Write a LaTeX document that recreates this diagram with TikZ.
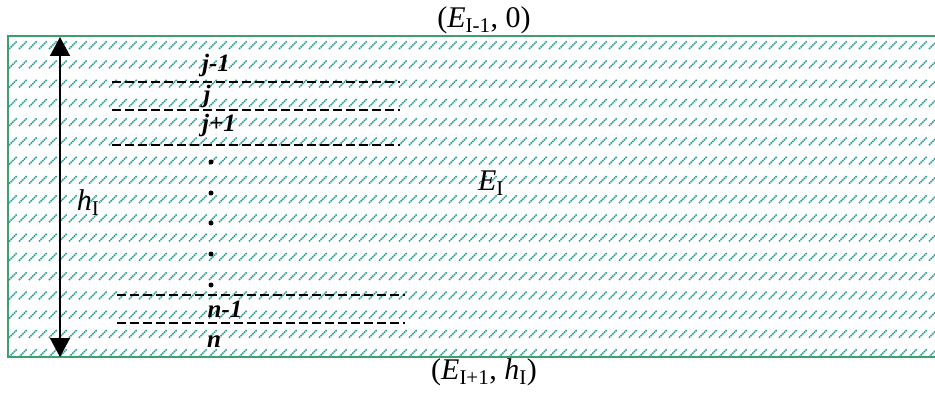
\documentclass[tikz,border=0pt]{standalone}
\usepackage{fontspec}
\setmainfont{Liberation Serif}
\usetikzlibrary{arrows.meta}
\definecolor{hatchcol}{RGB}{45,160,152}
\definecolor{bordercol}{RGB}{60,160,110}
\tikzset{
  hatch/.style={draw=hatchcol, line width=1.6pt, dash pattern=on 1.6pt off 0.7pt},
  layerline/.style={draw=black, line width=2.7pt, dash pattern=on 8.5pt off 4.5pt},
  thinlayer/.style={draw=black, line width=2.1pt, dash pattern=on 8.5pt off 4.5pt},
  biglabel/.style={inner sep=0pt, font=\fontsize{30}{34}\selectfont},
  idxlabel/.style={inner sep=0pt, anchor=base, font=\fontsize{25}{28}\selectfont\bfseries\itshape},
  dotmark/.style={circle, fill=black, inner sep=0pt, minimum size=5pt},
  harrow/.style={draw=black, line width=1.8pt, {Triangle[length=19pt,width=20pt]}-{Triangle[length=19pt,width=20pt]}}
}
\begin{document}
\begin{tikzpicture}[x=1pt,y=-1pt]
\useasboundingbox (0,0) rectangle (935,393);
% hatching
\begin{scope}
  \clip (8,36) rectangle (940,357);
  \foreach \r in {0,...,16}{
    \foreach \c in {0,...,93}{
      \draw[hatch] ({9+\c*10},{49+\r*19.25}) -- ++(8,-8);
    }
  }
\end{scope}
% border
\draw[bordercol, line width=2pt] (945,36) -- (8,36) -- (8,357) -- (945,357);
% arrow
\coordinate (htop) at (60,37);
\coordinate (hbot) at (60,357);
\draw[harrow] (htop) -- (hbot);
% dashed layer lines
\coordinate (a1) at (112,82);  \coordinate (b1) at (400,82);
\coordinate (a2) at (112,110); \coordinate (b2) at (400,110);
\coordinate (a3) at (112,145); \coordinate (b3) at (400,145);
\coordinate (a4) at (117,295); \coordinate (b4) at (405,295);
\coordinate (a5) at (117,323); \coordinate (b5) at (405,323);
\draw[layerline] (a1) -- (b1);
\draw[layerline] (a2) -- (b2);
\draw[layerline] (a3) -- (b3);
\draw[layerline] (a4) -- (b4);
\draw[thinlayer] (a5) -- (b5);
% index labels
\node[idxlabel] (ljm) at (216,72) {j-1};
\node[idxlabel] (lj) at (207,103) {j};
\node[idxlabel] (ljp) at (219,132) {j+1};
\node[idxlabel] (lnm) at (225,317) {n-1};
\node[idxlabel] (ln) at (214,347) {n};
% dots
\foreach \yy [count=\i] in {162,193,223,254,285}{
  \node[dotmark] (d\i) at (211,\yy) {};
}
% big labels
\node[biglabel] (top) at (484,20) {(\textit{E}\textsubscript{I-1}, 0)};
\node[biglabel] (bot) at (484,372) {(\textit{E}\textsubscript{I+1}, \textit{h}\textsubscript{I})};
\node[biglabel] (EI) at (491,183) {\textit{E}\textsubscript{I}};
\node[biglabel] (hI) at (88,203) {\textit{h}\textsubscript{I}};
\end{tikzpicture}
\end{document}
